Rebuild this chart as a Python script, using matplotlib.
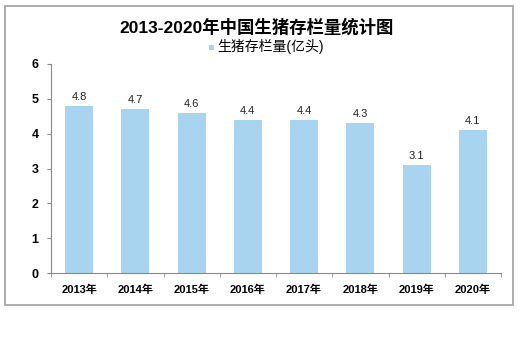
import numpy as np
import matplotlib.pyplot as plt
from matplotlib.patches import Rectangle

plt.rcParams['font.family'] = ['Liberation Sans', 'Noto Sans CJK SC', 'DejaVu Sans']

#data
years = ['2013年', '2014年', '2015年', '2016年', '2017年', '2018年', '2019年', '2020年']
stock = [4.8, 4.7, 4.6, 4.4, 4.4, 4.3, 3.1, 4.1]
yticks = [0, 1, 2, 3, 4, 5, 6]

W, H = 528, 337
fig = plt.figure(figsize=(W/100, H/100), dpi=100)

#outer frame
fig.patches.append(Rectangle((5/W, 1-305/H), 508/W, 299/H, transform=fig.transFigure,
                             fill=False, edgecolor='#a0a0a0', lw=1.2))

ax = fig.add_axes([51/W, 1-273/H, 450/W, 209/H])
x = np.arange(len(years))
ax.bar(x, stock, width=0.5, color='#a9d4ef', zorder=2)
for xi, v in zip(x, stock):
    ax.text(xi, v + 0.12, f'{v:.1f}', ha='center', va='bottom', fontsize=8, color='#222222')

ax.set_xlim(-0.5, len(years) - 0.5)
ax.set_ylim(0, 6)
ax.set_yticks(yticks)
ax.set_xticks(x)
ax.set_xticklabels(years, fontsize=8, fontweight='bold')
ax.tick_params(axis='x', length=0, pad=8)
ax.set_xticks(np.arange(-0.5, len(years)), minor=True)
ax.tick_params(axis='x', which='minor', length=3, color='#888888', direction='out')
ax.tick_params(axis='y', length=3, color='#888888', labelsize=9, pad=6)
for lbl in ax.get_yticklabels():
    lbl.set_fontweight('bold')
for s in ['top', 'right']:
    ax.spines[s].set_visible(False)
for s in ['left', 'bottom']:
    ax.spines[s].set_color('#888888')
    ax.spines[s].set_linewidth(0.8)

#title and legend
fig.text(257/W, 1-27/H, '2013-2020年中国生猪存栏量统计图', ha='center', va='center',
         fontsize=12.5, fontweight='bold')
fig.patches.append(Rectangle((209/W, 1-50/H), 5/W, 5/H, transform=fig.transFigure,
                             facecolor='#a9d4ef', edgecolor='none'))
fig.text(217/W, 1-47/H, '生猪存栏量(亿头)', ha='left', va='center', fontsize=10)

fig.savefig('out.png', dpi=100)
